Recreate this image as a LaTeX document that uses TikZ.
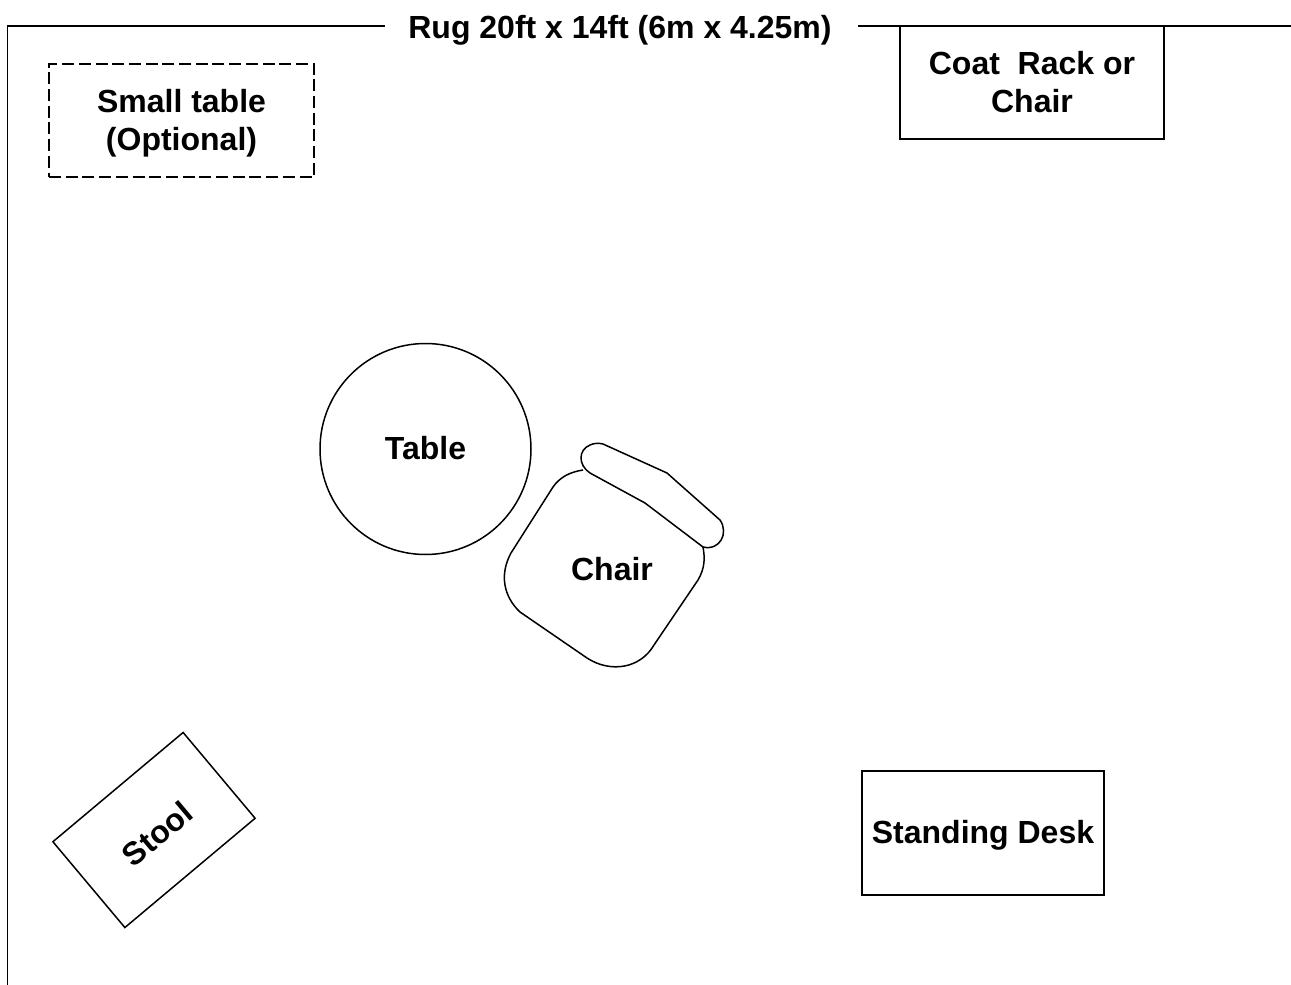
\documentclass[tikz,border=0pt]{standalone}
\usepackage{fontspec}
\setmainfont{Liberation Sans}
\begin{document}
\begin{tikzpicture}[x=1pt,y=-1pt]

    % Styles
    \tikzstyle{furniture} = [rectangle, draw=black, line width=1.5pt, fill=white, inner sep=0pt, align=center, font=\fontsize{32}{38}\selectfont\bfseries]
    \tikzstyle{optional} = [furniture, dashed, dash pattern=on 12pt off 4.7pt]
    \tikzstyle{caption} = [inner sep=0pt, align=center, font=\fontsize{32}{38}\selectfont\bfseries]
    \tikzstyle{outline} = [draw=black, line width=1.5pt]

    \useasboundingbox (0,0) rectangle (1291,985);

    % Rug
    \coordinate (rugbottom) at (7.5,985);
    \coordinate (rugcorner) at (7.5,26);
    \coordinate (rugleft) at (385,26);
    \coordinate (rugright) at (858,26);
    \coordinate (rugend) at (1291,26);
    \node (rug) [caption] at (620,30) {Rug 20ft x 14ft (6m x 4.25m)};
    \draw [outline] (rugbottom) -- (rugcorner) -- (rugleft);
    \draw [outline] (rugright) -- (rugend);

    % Noeuds
    \node (smalltable) [optional, minimum width=265pt, minimum height=113pt] at (181.5,120.5) {\rule{0pt}{29pt}Small table\\(Optional)};
    \node (coatrack) [furniture, minimum width=264pt, minimum height=113pt] at (1032,82.5) {Coat\ \ Rack or\\Chair};
    \node (table) [furniture, circle, minimum size=211pt, text depth=2pt] at (425.5,449) {Table};
    \node (desk) [furniture, minimum width=242pt, minimum height=124pt, text height=27pt] at (983,833) {Standing Desk};
    \node (stool) [furniture, rotate=40, minimum width=170pt, minimum height=112pt, text height=33pt] at (154,830) {Stool};

    % Chair
    \draw [outline] (583,470) .. controls (570,472) and (560,477) .. (553,487)
        -- (511,553) .. controls (499,575) and (504,597) .. (520,612)
        -- (587,658) .. controls (610,673) and (640,669) .. (654,645)
        -- (698,580) .. controls (705,568) and (705,558) .. (703,547);
    \draw [outline] (590,473) .. controls (578,465) and (578,450) .. (590,445)
        .. controls (594,443) and (599,443) .. (603,444)
        -- (667,473) -- (720,520) .. controls (729,533) and (720,551) .. (703,547)
        -- (645,503) -- cycle;
    \node (chair) [caption] at (612,569) {Chair};

\end{tikzpicture}
\end{document}
